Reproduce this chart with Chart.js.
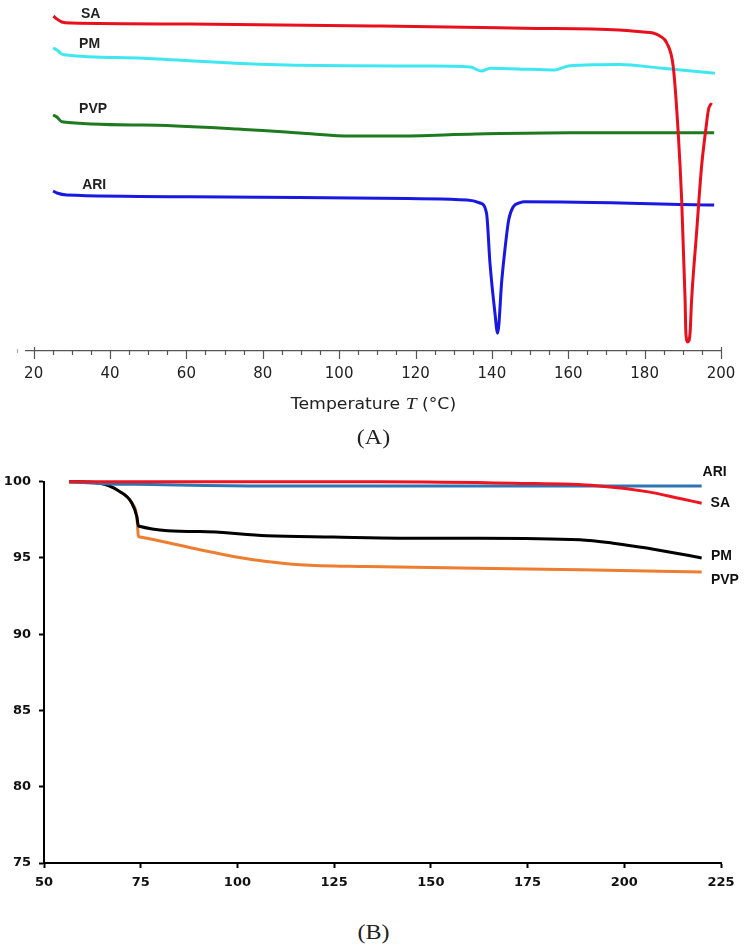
<!DOCTYPE html>
<html>
<head>
<meta charset="utf-8">
<script src="https://cdn.jsdelivr.net/npm/chart.js@4.4.0/dist/chart.umd.min.js"></script>
<style>
body{margin:0;background:#fff;width:747px;height:951px;position:relative;overflow:hidden;}
canvas{position:absolute;left:0;}
#cA{top:0;}
#cB{top:460px;}
.txt{position:absolute;left:0;width:747px;text-align:center;white-space:nowrap;color:#222;}
#titA{top:394px;font:15px "DejaVu Sans";transform:scaleX(1.15);}
#titA i{font-family:"Liberation Serif";font-size:17px;}
.cap{font:20px "Liberation Serif";transform:scaleX(1.2);}
</style>
</head>
<body>
<canvas id="cA" width="747" height="395"></canvas>
<div class="txt" id="titA">Temperature <i>T</i> (°C)</div>
<div class="txt cap" style="top:426px">(A)</div>
<canvas id="cB" width="747" height="440"></canvas>
<div class="txt cap" style="top:921px">(B)</div>
<script>
// (A) DSC, temperature in °C, heat flow in arbitrary units
var tSA=[25.2,26.1,27.4,29.8,60.9,111.0,148.4,173.3,179.6,182.2,184.0,185.8,187.5,188.8,189.7,190.6,190.8,191.3,191.9,192.3,193.6,194.9,196.1,196.7,197.5];
var vSA=[33.5,33.2,32.9,32.8,32.7,32.5,32.27,32.1,31.9,31.8,31.5,30.8,28.4,21.8,15.1,5.1,1.8,0.9,1.8,5.1,11.8,18.4,22.4,24.1,24.8];
var tPM=[25.1,26.1,27.4,28.7,48.6,86.1,123.5,134.3,137.3,139.5,150.0,156.5,160.0,168.3,173.5,184.0,198.4];
var vPM=[30.3,30.1,29.7,29.6,29.27,28.6,28.5,28.4,28.0,28.27,28.17,28.1,28.5,28.63,28.65,28.3,27.77];
var tPVP=[25.1,26.1,27.4,48.6,73.5,89.7,103.4,114.6,135.8,160.7,198.2];
var vPVP=[23.6,23.4,22.93,22.6,22.2,21.8,21.5,21.5,21.7,21.83,21.83];
var tARI=[25.1,26.1,28.7,60.9,111.0,133.5,136.9,138.6,139.5,140.8,141.5,142.6,143.5,144.4,145.6,147.4,148.4,198.2];
var vARI=[16.0,15.8,15.6,15.43,15.27,15.1,14.8,13.77,8.8,3.8,1.77,7.1,10.43,13.1,14.43,14.83,14.93,14.6];
var ticksA=[20,40,60,80,100,120,140,160,180,200];

// (B) TGA, temperature in °C, weight in %
var tSAb=[56.5,136.8,171.3,192.9,205.8,214.4,220.0];
var vSAb=[100.0,100.0,99.9,99.74,99.35,98.9,98.59];
var tARIb=[56.5,67.1,73.1,107.6,142.0,220.0];
var vARIb=[100.0,99.85,99.83,99.72,99.72,99.72];
var tPMb=[56.5,64.5,69.6,72.7,74.0,74.4,90.3,107.6,124.8,142.0,162.7,188.5,197.1,205.8,220.0];
var vPMb=[100.0,99.9,99.35,98.6,97.7,97.1,96.73,96.45,96.37,96.3,96.3,96.19,95.97,95.65,95.0];
var tPVPb=[56.5,64.5,69.6,72.7,74.0,74.4,74.8,90.3,98.9,107.6,116.2,133.4,188.5,220.0];
var vPVPb=[100.0,99.9,99.35,98.6,97.7,96.45,96.37,95.54,95.1,94.77,94.56,94.44,94.23,94.08];

function pts(t,v){
	var r=[];
	for(var i=0;i<t.length;i++){ r.push({x:t[i],y:v[i]}); }
	return r;
}
function serie(t,v,color){
	return {data:pts(t,v),borderColor:color,borderWidth:3,pointRadius:0,fill:false,
		cubicInterpolationMode:'monotone',clip:false};
}

Chart.defaults.font.family='DejaVu Sans';
Chart.defaults.animation=false;

var etiquetas={
	id:'etiquetas',
	afterDraw:function(chart,args,opts){
		var ctx=chart.ctx, xs=chart.scales.x, ys=chart.scales.y;
		ctx.save();
		ctx.fillStyle=opts.color;
		ctx.font=opts.font;
		ctx.textAlign='left';
		ctx.textBaseline='middle';
		opts.items.forEach(function(it){
			ctx.fillText(it.text,xs.getPixelForValue(it.x),ys.getPixelForValue(it.y));
		});
		ctx.restore();
	}
};

var marcas={
	id:'marcas',
	afterDraw:function(chart){
		var ctx=chart.ctx, xs=chart.scales.x, y0=chart.chartArea.bottom;
		ctx.save();
		ctx.strokeStyle='#555';
		ctx.lineWidth=1.2;
		for(var t=20;t<=200;t+=5){
			var px=Math.round(xs.getPixelForValue(t))+0.5;
			var len=(t%20==0)?8:4;
			var up=(t==20||t==200)?4:0;
			ctx.beginPath();
			ctx.moveTo(px,y0-up);
			ctx.lineTo(px,y0+len);
			ctx.stroke();
		}
		ctx.strokeStyle='#aaa';
		ctx.beginPath();
		ctx.moveTo(17.5,y0-2);
		ctx.lineTo(17.5,y0+2);
		ctx.stroke();
		ctx.restore();
	}
};

var ctxA=document.getElementById("cA").getContext("2d");
var chartA=new Chart(ctxA,{
	type:'line',
	data:{datasets:[
		serie(tSA,vSA,'#e8101c'),
		serie(tPM,vPM,'#3fe7f0'),
		serie(tPVP,vPVP,'#1e7a1e'),
		serie(tARI,vARI,'#1818e0')
	]},
	options:{
		responsive:false,
		layout:{padding:{left:26,right:26,top:1,bottom:0}},
		plugins:{
			legend:{display:false},
			tooltip:{enabled:false},
			etiquetas:{color:'#222',font:'bold 14px "Liberation Sans"',items:[
				{text:'SA',x:32.4,y:33.7},
				{text:'PM',x:31.9,y:30.7},
				{text:'PVP',x:31.9,y:24.2},
				{text:'ARI',x:32.7,y:16.6}
			]}
		},
		scales:{
			x:{type:'linear',min:18,max:200,
				afterBuildTicks:function(s){ s.ticks=ticksA.map(function(v){return {value:v};}); },
				afterFit:function(s){ s.height=44; },
				grid:{display:false},
				border:{display:true,color:'#555',width:1.2},
				ticks:{padding:6,color:'#222',font:{size:15},maxRotation:0,autoSkip:false}
			},
			y:{display:false,min:0,max:35}
		}
	},
	plugins:[etiquetas,marcas]
});

var ctxB=document.getElementById("cB").getContext("2d");
var chartB=new Chart(ctxB,{
	type:'line',
	data:{datasets:[
		serie(tSAb,vSAb,'#ee1520'),
		serie(tARIb,vARIb,'#2e75b6'),
		serie(tPMb,vPMb,'#000000'),
		serie(tPVPb,vPVPb,'#ed7d31')
	]},
	options:{
		responsive:false,
		layout:{padding:{left:0,right:26,top:21.7,bottom:0}},
		plugins:{
			legend:{display:false},
			tooltip:{enabled:false},
			etiquetas:{color:'#111',font:'bold 14px "Liberation Sans"',items:[
				{text:'ARI',x:220.25,y:100.65},
				{text:'SA',x:222.3,y:98.58},
				{text:'PM',x:222.4,y:95.14},
				{text:'PVP',x:222.4,y:93.54}
			]}
		},
		scales:{
			x:{type:'linear',min:50,max:225,
				afterFit:function(s){ s.height=37; },
				grid:{display:true,drawOnChartArea:false,drawTicks:true,tickLength:5,tickColor:'#000',tickWidth:2},
				border:{display:true,color:'#000',width:2},
				ticks:{stepSize:25,padding:7,color:'#111',font:{size:13,weight:'bold'},maxRotation:0}
			},
			y:{type:'linear',min:75,max:100,
				afterFit:function(s){ s.width=44; },
				grid:{display:true,drawOnChartArea:false,drawTicks:true,tickLength:5,tickColor:'#000',tickWidth:2},
				border:{display:true,color:'#000',width:2},
				ticks:{stepSize:5,padding:8,color:'#111',font:{size:13,weight:'bold'}}
			}
		}
	},
	plugins:[etiquetas]
});
</script>
</body>
</html>
